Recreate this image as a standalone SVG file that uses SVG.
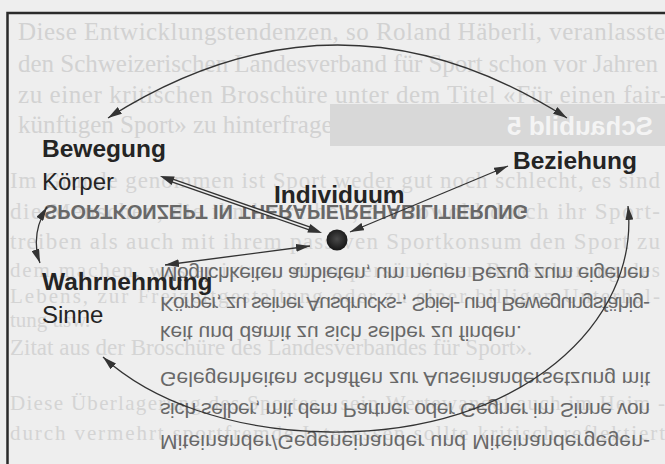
<svg xmlns="http://www.w3.org/2000/svg" width="665" height="464" viewBox="0 0 665 464">
<defs>
<style>
.ghost{font-family:"Liberation Serif","Times New Roman",serif;fill:#d2d2d2;font-size:25px}
.ghost2{font-family:"Liberation Serif","Times New Roman",serif;fill:#d4d4d4;font-size:23px}
.flip{font-family:"Liberation Sans",Arial,sans-serif;fill:#686868;font-size:21px}
.lbl{font-family:"Liberation Sans",Arial,sans-serif;fill:#242424;font-size:24px}
.b{font-weight:bold;font-size:24.5px}
.ln{fill:none;stroke:#333;stroke-width:1.3}
</style>
<marker id="ah" viewBox="0 0 14 8" refX="14" refY="4" markerWidth="14" markerHeight="8" markerUnits="userSpaceOnUse" orient="auto-start-reverse">
<path d="M0,0 L14,4 L0,8 z" fill="#333"/>
</marker>
<radialGradient id="dg" cx="0.5" cy="0.45" r="0.5">
<stop offset="0" stop-color="#4a4a4a"/>
<stop offset="1" stop-color="#1a1a1a"/>
</radialGradient>
</defs>
<rect width="665" height="464" fill="#eeeeee"/>
<g id="background-ghost">
<text class="ghost" x="18" y="40" textLength="660" lengthAdjust="spacing">Diese Entwicklungstendenzen, so Roland Häberli, veranlassten</text>
<text class="ghost" x="18" y="72" textLength="640" lengthAdjust="spacing">den Schweizerischen Landesverband für Sport schon vor Jahren</text>
<text class="ghost" x="18" y="103" textLength="650" lengthAdjust="spacing">zu einer kritischen Broschüre unter dem Titel «Für einen fair-</text>
<text class="ghost" x="18" y="133">künftigen Sport» zu hinterfragen.</text>
<rect x="330" y="104" width="335" height="42" fill="#d8d8d8"/>
<g transform="translate(653,135) scale(-1,1)"><text x="0" y="0" style="font-family:'Liberation Sans',Arial,sans-serif;font-weight:bold;font-size:26px;fill:#f4f4f4">Schaubild 5</text></g>
<text class="ghost2" x="10" y="188" textLength="650" lengthAdjust="spacing">Im Grunde genommen ist Sport weder gut noch schlecht, es sind</text>
<text class="ghost2" x="10" y="219" textLength="650" lengthAdjust="spacing">die Menschen, die ihn betreiben, die sowohl durch ihr Sport-</text>
<text class="ghost2" x="10" y="249" textLength="650" lengthAdjust="spacing">treiben als auch mit ihrem passiven Sportkonsum den Sport zu</text>
<text class="ghost2" x="10" y="277" textLength="650" lengthAdjust="spacing" style="font-size:21px">dem machen, was er ist: zu einer persönlichen Bereicherung des</text>
<text class="ghost2" x="10" y="303" textLength="650" lengthAdjust="spacing" style="font-size:21px">Lebens, zur Freizeitgestaltung oder zu einer billigen Unterhal-</text>
<text class="ghost2" x="10" y="327" style="font-size:21px">tung usw.</text>
<text class="ghost2" x="10" y="355">Zitat aus der Broschüre des Landesverbandes für Sport».</text>
<text class="ghost2" x="10" y="410" textLength="655" lengthAdjust="spacing" style="font-size:21px">Diese Überlagerung des Sportes - sein Wertewandel auch im Heim -</text>
<text class="ghost2" x="10" y="440" textLength="655" lengthAdjust="spacing" style="font-size:21px">durch vermehrt sportfremde Interessen sollte kritisch reflektiert</text>
<g transform="translate(0,205) scale(1,-1)"><text class="flip" style="font-weight:bold" x="44" y="0" textLength="484" lengthAdjust="spacingAndGlyphs">SPORTKONZEPT IN THERAPIE/REHABILITIERUNG</text></g>
<g transform="translate(0,267) scale(1,-1)"><text class="flip" x="160" y="0" textLength="490" lengthAdjust="spacing">Möglichkeiten anbieten, um neuen Bezug zum eigenen</text></g>
<g transform="translate(0,297) scale(1,-1)"><text class="flip" x="160" y="0" textLength="490" lengthAdjust="spacing">Körper, zu seiner Ausdrucks-, Spiel- und Bewegungsfähig-</text></g>
<g transform="translate(0,326) scale(1,-1)"><text class="flip" x="160" y="0">keit und damit zu sich selber zu finden.</text></g>
<g transform="translate(0,372) scale(1,-1)"><text class="flip" x="160" y="0" textLength="490" lengthAdjust="spacing">Gelegenheiten schaffen zur Auseinandersetzung mit</text></g>
<g transform="translate(0,403) scale(1,-1)"><text class="flip" x="160" y="0" textLength="490" lengthAdjust="spacing">sich selber, mit dem Partner oder Gegner im Sinne von</text></g>
<g transform="translate(0,435) scale(1,-1)"><text class="flip" x="160" y="0" textLength="490" lengthAdjust="spacing">Miteinander/Gegeneinander und Miteinandergegen-</text></g>
</g>
<g id="frame">
<path d="M665,13 L7.5,13 L7.5,464" fill="none" stroke="#2a2a2a" stroke-width="2.5"/>
</g>
<g id="connectors">
<path class="ln" d="M108,118 Q338,-28 567,118" marker-start="url(#ah)" marker-end="url(#ah)"/>
<path class="ln" d="M628,206 C640,322 522,434 330,432 C230,431 150,400 103,357" marker-start="url(#ah)" marker-end="url(#ah)"/>
<path class="ln" d="M47,207 Q30,235 40,263" marker-start="url(#ah)" marker-end="url(#ah)"/>
<line x1="508" y1="166" x2="350" y2="232" class="ln" marker-start="url(#ah)" marker-end="url(#ah)"/>
<line x1="165" y1="265" x2="310" y2="246" class="ln" marker-start="url(#ah)" marker-end="url(#ah)"/>
<g id="double-arrow">
<line x1="168" y1="179" x2="314" y2="230" stroke="#333" stroke-width="4.2"/>
<line x1="168" y1="179" x2="314" y2="230" stroke="#eeeeee" stroke-width="1.6"/>
<polygon points="160,176 171.7,184.9 174.7,176.4" fill="#333"/>
<polygon points="322,233 307.3,232.6 310.3,224.1" fill="#333"/>
</g>
</g>
<g id="node-bewegung">
<text class="lbl b" x="42" y="157">Bewegung</text>
<text class="lbl" x="42" y="190">Körper</text>
</g>
<g id="node-beziehung">
<text class="lbl b" x="513" y="169">Beziehung</text>
</g>
<g id="node-individuum">
<text class="lbl b" x="274" y="203">Individuum</text>
<circle cx="337" cy="240" r="10.5" fill="url(#dg)"/>
</g>
<g id="node-wahrnehmung">
<text class="lbl b" x="42" y="290">Wahrnehmung</text>
<text class="lbl" x="42" y="323">Sinne</text>
</g>
</svg>
